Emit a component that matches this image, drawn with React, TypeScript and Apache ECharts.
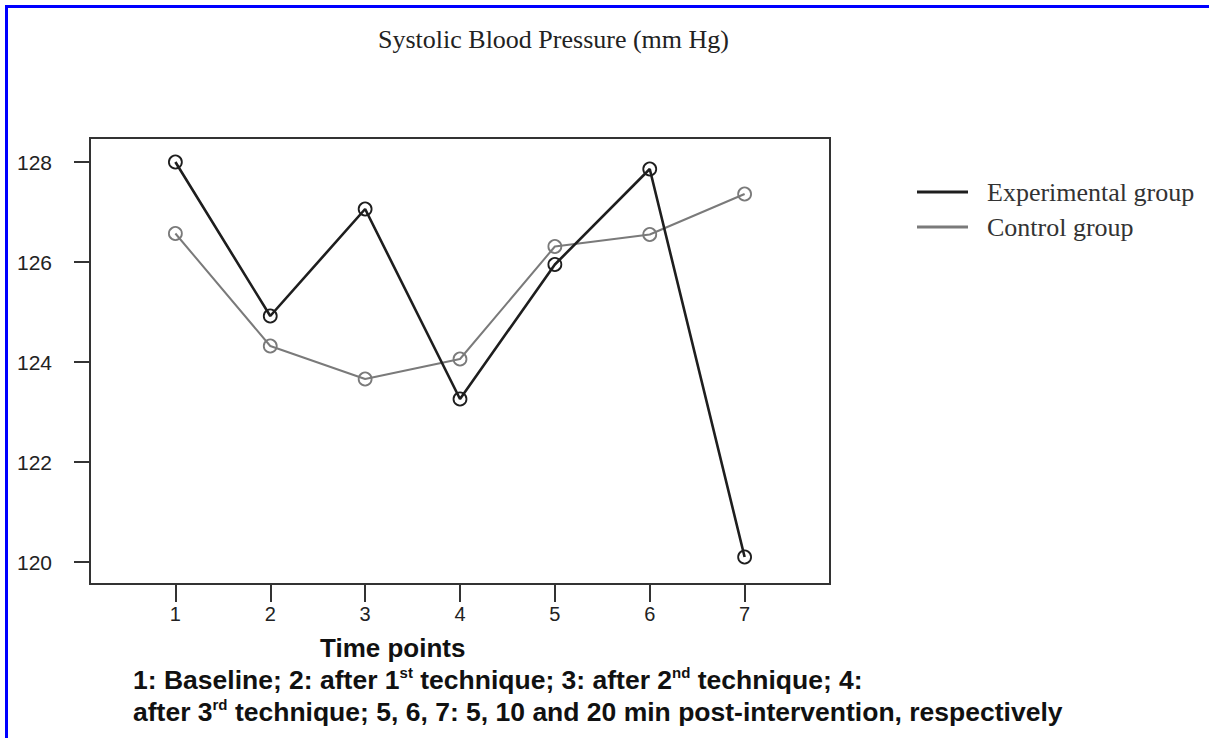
import React, { useEffect, useRef } from "react";
import * as echarts from "echarts";

const timePoints = [1, 2, 3, 4, 5, 6, 7];
const experimental = [128.0, 124.92, 127.06, 123.26, 125.95, 127.86, 120.1];
const control = [126.57, 124.32, 123.66, 124.06, 126.31, 126.55, 127.36];
const yTicks = [120, 122, 124, 126, 128];
const seriesNames = ["Experimental group", "Control group"];
const titleText = "Systolic Blood Pressure (mm Hg)";
const xName = "Time points";
const captionLine1 = "1: Baseline; 2: after 1{sup|st} technique; 3: after 2{sup|nd} technique; 4:";
const captionLine2 = "after 3{sup|rd} technique; 5, 6, 7: 5, 10 and 20 min post-intervention, respectively";

const SERIF = "'Liberation Serif', 'Times New Roman', serif";
const SANS = "'Liberation Sans', Arial, sans-serif";
const EXP_COLOR = "#1e1e1e";
const CTL_COLOR = "#7a7a7a";

export default function App() {
  const ref = useRef<HTMLDivElement>(null);
  useEffect(() => {
    if (!ref.current) return;
    const chart = echarts.init(ref.current, undefined, { renderer: "svg" });
    const mk = (vals: number[]) => vals.map((v, i) => [timePoints[i], v]);
    const supRich = { sup: { fontSize: 15, fontWeight: "bold", verticalAlign: "top", lineHeight: 30, fontFamily: SANS } };
    chart.setOption({
      animation: false,
      backgroundColor: "#ffffff",
      title: {
        text: titleText,
        left: 373,
        top: 21,
        textStyle: { fontFamily: SERIF, fontSize: 26, fontWeight: "normal", color: "#222" },
      },
      legend: {
        orient: "vertical",
        left: 912,
        top: 173,
        itemWidth: 51,
        itemHeight: 3,
        itemGap: 7,
        icon: "rect",
        textStyle: { fontFamily: SERIF, fontSize: 26, color: "#333", lineHeight: 28, padding: [0, 0, 0, 14] },
        data: [
          { name: seriesNames[0], itemStyle: { color: EXP_COLOR, borderWidth: 0 } },
          { name: seriesNames[1], itemStyle: { color: CTL_COLOR, borderWidth: 0 } },
        ],
      },
      grid: {
        left: 90,
        right: 379,
        top: 138,
        bottom: 154,
        show: true,
        borderColor: "#333",
        borderWidth: 2,
        backgroundColor: "transparent",
      },
      xAxis: {
        type: "value",
        min: 0.1,
        max: 7.9,
        splitLine: { show: false },
        axisLine: { show: false },
        axisTick: { show: true, length: 18, customValues: timePoints, lineStyle: { color: "#333", width: 2 } },
        axisLabel: { customValues: timePoints, margin: 20, fontFamily: SANS, fontSize: 20, color: "#222" },
      },
      yAxis: {
        type: "value",
        min: 119.56,
        max: 128.48,
        splitLine: { show: false },
        axisLine: { show: false },
        axisTick: { show: true, length: 16, customValues: yTicks, lineStyle: { color: "#333", width: 2 } },
        axisLabel: { customValues: yTicks, margin: 38, fontFamily: SANS, fontSize: 21, color: "#222" },
      },
      series: [
        {
          name: seriesNames[0],
          type: "line",
          data: mk(experimental),
          symbol: "circle",
          symbolSize: 13,
          lineStyle: { color: EXP_COLOR, width: 2.6 },
          itemStyle: { color: "rgba(255,255,255,0)", borderColor: EXP_COLOR, borderWidth: 1.8 },
          z: 3,
        },
        {
          name: seriesNames[1],
          type: "line",
          data: mk(control),
          symbol: "circle",
          symbolSize: 13,
          lineStyle: { color: CTL_COLOR, width: 2 },
          itemStyle: { color: "rgba(255,255,255,0)", borderColor: CTL_COLOR, borderWidth: 1.8 },
          z: 2,
        },
      ],
      graphic: [
        { type: "rect", shape: { x: 5, y: 5, width: 1204, height: 3 }, style: { fill: "#0000ff" }, silent: true },
        { type: "rect", shape: { x: 5, y: 5, width: 3, height: 733 }, style: { fill: "#0000ff" }, silent: true },
        {
          type: "text",
          left: 320,
          top: 635,
          style: { text: xName, fontFamily: SANS, fontSize: 26, fontWeight: "bold", fill: "#111" },
        },
        {
          type: "text",
          left: 133,
          top: 665,
          style: {
            text: captionLine1,
            fontFamily: SANS,
            fontSize: 26.5,
            fontWeight: "bold",
            fill: "#111",
            lineHeight: 30,
            rich: supRich,
          },
        },
        {
          type: "text",
          left: 133,
          top: 697,
          style: {
            text: captionLine2,
            fontFamily: SANS,
            fontSize: 26.5,
            fontWeight: "bold",
            fill: "#111",
            lineHeight: 30,
            rich: supRich,
          },
        },
      ],
    });
    return () => chart.dispose();
  }, []);
  return (
    <div
      ref={ref}
      style={{ position: "absolute", left: 0, top: 0, width: 1209, height: 738, background: "#fff" }}
    />
  );
}
